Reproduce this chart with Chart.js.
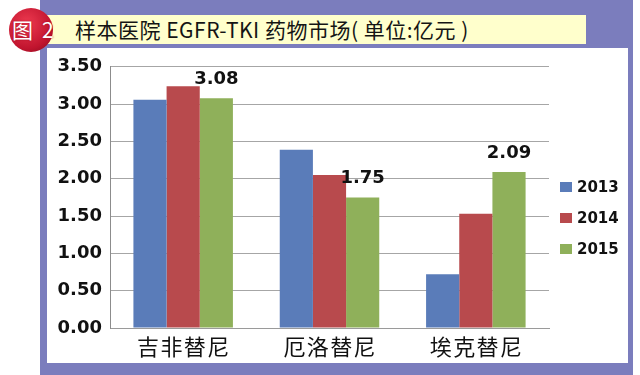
<!DOCTYPE html>
<html>
<head>
<meta charset="utf-8">
<script src="https://cdn.jsdelivr.net/npm/chart.js@4/dist/chart.umd.min.js"></script>
<style>
  html, body { margin: 0; padding: 0; background: #fff; }
  body { width: 640px; height: 375px; position: relative; overflow: hidden; font-family: "Noto Sans CJK SC", sans-serif; }
  #moldura { position: absolute; left: 40px; top: 0; width: 593px; height: 375px; background: #7b7dbd; }
  #faixa { position: absolute; left: 40px; top: 15px; width: 546px; height: 29px; background: #ffffcc; }
  #titulo { position: absolute; left: 75px; top: 15px; height: 29px; line-height: 29px; font-size: 21px; letter-spacing: 0.5px; color: #141414; white-space: nowrap; }
  #selo { position: absolute; left: 9px; top: 8px; width: 44px; height: 44px; border-radius: 50%;
          background: radial-gradient(circle at 40% 35%, #ee3a50, #c0142e 65%, #80091c); }
  #seloTxt { position: absolute; left: 12px; top: 15px; height: 29px; line-height: 29px; font-size: 21px; color: #fff; white-space: nowrap;
             text-shadow: 0 0 2px #a00c22; }
  #painel { position: absolute; left: 47px; top: 48px; width: 581px; height: 315px; background: #fff; }
  #grafico { position: absolute; left: 0; top: 0; }
</style>
</head>
<body>
<div id="moldura"></div>
<div id="faixa"></div>
<div id="titulo">样本医院 EGFR-TKI 药物市场( 单位:亿元 )</div>
<div id="selo"></div>
<div id="seloTxt">图<span style="margin-left:9px">2</span></div>
<div id="painel"><canvas id="grafico" width="581" height="315"></canvas></div>
<script>
const categorias = ["吉非替尼", "厄洛替尼", "埃克替尼"];
const anos = ["2013", "2014", "2015"];
const valores2013 = [3.06, 2.39, 0.72];
const valores2014 = [3.24, 2.05, 1.53];
const valores2015 = [3.08, 1.75, 2.09];
const cores = ["#5a7cb9", "#b84a4d", "#8fb05a"];
const eixoMin = 0;
const eixoMax = 3.5;
const eixoPasso = 0.5;

const fonteNumeros = "DejaVu Sans";

// rótulos só na série 2015, acima da barra
const pluginRotulos = {
  id: "rotulos",
  afterDatasetsDraw(chart) {
    const ctx = chart.ctx;
    const meta = chart.getDatasetMeta(2);
    ctx.save();
    ctx.font = "bold 18px '" + fonteNumeros + "'";
    ctx.fillStyle = "#111";
    ctx.textAlign = "center";
    ctx.textBaseline = "middle";
    meta.data.forEach((barra, i) => {
      ctx.fillText(valores2015[i].toFixed(2), barra.x, barra.y - 19);
    });
    ctx.restore();
  }
};

const pluginLegenda = {
  id: "legendaDireita",
  afterDraw(chart) {
    const ctx = chart.ctx;
    const x = chart.chartArea.right + 11;
    const y0 = 139;
    ctx.save();
    ctx.font = "bold 15px '" + fonteNumeros + "'";
    ctx.textBaseline = "middle";
    ctx.textAlign = "left";
    chart.data.datasets.forEach((ds, i) => {
      const y = y0 + i * 31;
      ctx.fillStyle = ds.backgroundColor;
      ctx.fillRect(x, y - 5, 12, 10);
      ctx.fillStyle = "#111";
      ctx.fillText(ds.label, x + 17, y + 1);
    });
    ctx.restore();
  }
};

new Chart(document.getElementById("grafico"), {
  type: "bar",
  data: {
    labels: categorias,
    datasets: [
      { label: anos[0], data: valores2013, backgroundColor: cores[0] },
      { label: anos[1], data: valores2014, backgroundColor: cores[1] },
      { label: anos[2], data: valores2015, backgroundColor: cores[2] }
    ]
  },
  options: {
    responsive: false,
    animation: false,
    layout: { padding: { top: 17, right: 79, left: 0, bottom: 0 } },
    datasets: {
      bar: { categoryPercentage: 0.68, barPercentage: 1, borderWidth: 0 }
    },
    plugins: {
      legend: { display: false },
      tooltip: { enabled: false }
    },
    scales: {
      x: {
        grid: { display: false },
        border: { display: true, color: "#9a9a9a", width: 1 },
        ticks: {
          color: "#111",
          padding: 0,
          font: { family: "'Noto Sans CJK SC'", size: 22, lineHeight: 1 },
          callback: function (v) { return this.getLabelForValue(v).split("").join("\u200a"); }
        },
        afterFit(escala) { escala.height = 35; }
      },
      y: {
        min: eixoMin,
        max: eixoMax,
        grid: { color: "#a6a6a6", drawTicks: false },
        border: { display: true, color: "#8c8c8c", width: 1 },
        ticks: {
          stepSize: eixoPasso,
          color: "#111",
          padding: 8,
          font: { family: fonteNumeros, size: 18, weight: "bold" },
          callback: v => Number(v).toFixed(2)
        },
        afterFit(escala) { escala.width = 63; }
      }
    }
  },
  plugins: [pluginRotulos, pluginLegenda]
});
</script>
</body>
</html>
